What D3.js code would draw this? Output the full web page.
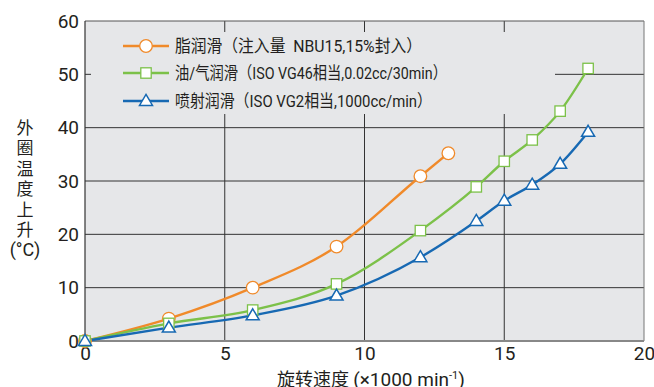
<!DOCTYPE html>
<html><head><meta charset="utf-8">
<script src="https://cdn.jsdelivr.net/npm/d3@7"></script>
<style>
body{margin:0;background:#fff;}
text{font-family:Roboto,"Liberation Sans",sans-serif;fill:#231f20;}
.cjk{font-family:"Noto Sans CJK SC",Roboto,sans-serif;}
.mix{font-family:Roboto,"Noto Sans CJK SC",sans-serif;}
</style></head><body>
<svg id="c" width="654" height="387"></svg>
<script>
const greaseX = [0, 3, 6, 9, 12, 13];
const greaseY = [0, 4.2, 10, 17.7, 30.9, 35.2];
const oilAirX = [0, 3, 6, 9, 12, 14, 15, 16, 17, 18];
const oilAirY = [0, 3.3, 5.8, 10.7, 20.7, 28.9, 33.7, 37.7, 43.1, 51.1];
const jetX = [0, 3, 6, 9, 12, 14, 15, 16, 17, 18];
const jetY = [0, 2.5, 4.8, 8.5, 15.7, 22.5, 26.3, 29.3, 33.2, 39.2];
const xTicks = [0, 5, 10, 15, 20];
const yTicks = [0, 10, 20, 30, 40, 50, 60];
const legendLabels = ["脂润滑（注入量  NBU15,15%封入）", "油/气润滑（ISO VG46相当,0.02cc/30min）", "喷射润滑（ISO VG2相当,1000cc/min）"];
const yTitle = "外圈温度上升";
const yUnit = "(°C)";

const svg = d3.select("#c");
const L = 85, R = 644, T = 21, B = 341;
const x = d3.scaleLinear().domain([0, 20]).range([L, R]);
const y = d3.scaleLinear().domain([0, 60]).range([B, T]);
const bg = "#e6e7e9";

svg.append("rect").attr("x", L).attr("y", T).attr("width", R - L).attr("height", B - T).attr("fill", bg);

// grid
const g = svg.append("g");
xTicks.slice(1, -1).forEach(v => {
  g.append("line").attr("x1", x(v)).attr("x2", x(v)).attr("y1", T).attr("y2", B).attr("stroke", "#333").attr("stroke-width", 1);
});
yTicks.slice(1, -1).forEach(v => {
  g.append("line").attr("x1", L).attr("x2", R).attr("y1", y(v)).attr("y2", y(v)).attr("stroke", "#333").attr("stroke-width", 1);
});
// legend backdrop hides grid
svg.append("rect").attr("x", 91).attr("y", 32).attr("width", 555 - 91).attr("height", 114 - 32).attr("fill", bg);

// frame
svg.append("line").attr("x1", L).attr("x2", R).attr("y1", T).attr("y2", T).attr("stroke", "#555").attr("stroke-width", 1);
svg.append("line").attr("x1", R).attr("x2", R).attr("y1", T).attr("y2", B).attr("stroke", "#777").attr("stroke-width", 1);
svg.append("line").attr("x1", L).attr("x2", R).attr("y1", B).attr("y2", B).attr("stroke", "#888").attr("stroke-width", 2);
svg.append("line").attr("x1", L).attr("x2", L).attr("y1", T).attr("y2", B + 1).attr("stroke", "#333").attr("stroke-width", 1.2);

// axes labels
const xAxis = d3.axisBottom(x).tickValues(xTicks).tickSize(0).tickPadding(6);
const xg = svg.append("g").attr("transform", `translate(0,${B})`).call(xAxis);
xg.select(".domain").remove();
xg.selectAll("text").attr("font-size", 19).attr("dy", "0.71em").attr("fill", "#231f20").style("font-family", "Roboto,sans-serif");
const yAxis = d3.axisLeft(y).tickValues(yTicks).tickSize(0).tickPadding(6);
const yg = svg.append("g").attr("transform", `translate(${L},0)`).call(yAxis);
yg.select(".domain").remove();
yg.selectAll("text").attr("font-size", 19).attr("fill", "#231f20").style("font-family", "Roboto,sans-serif");

// axis titles
svg.append("text").attr("class", "cjk").attr("x", 25).attr("y", 119)
  .style("writing-mode", "vertical-rl").style("letter-spacing", "3.5px")
  .attr("font-size", 17).text(yTitle);
svg.append("text").attr("x", 25).attr("y", 256).attr("text-anchor", "middle").attr("font-size", 18).text(yUnit);

const xt = svg.append("text").attr("x", 371).attr("y", 386).attr("text-anchor", "middle").attr("font-size", 19);
xt.append("tspan").attr("class", "cjk").attr("font-size", 18).text("旋转速度 ");
xt.append("tspan").text("(×1000 min");
xt.append("tspan").attr("font-size", 11).attr("dy", -7).text("-1");
xt.append("tspan").attr("dy", 7).text(")");

const series = [
  {xs: greaseX, ys: greaseY, color: "#f08a2a", shape: "circle"},
  {xs: oilAirX, ys: oilAirY, color: "#7cc149", shape: "square"},
  {xs: jetX, ys: jetY, color: "#1769b3", shape: "triangle"}
];
const line = d3.line().x(d => x(d[0])).y(d => y(d[1])).curve(d3.curveMonotoneX);

function marker(sel, shape, color, cx, cy) {
  if (shape === "circle") {
    sel.append("circle").attr("cx", cx).attr("cy", cy).attr("r", 6.3).attr("fill", "#fff").attr("stroke", color).attr("stroke-width", 1.3);
  } else if (shape === "square") {
    sel.append("rect").attr("x", cx - 5.2).attr("y", cy - 5.2).attr("width", 10.4).attr("height", 10.4).attr("fill", "#fff").attr("stroke", color).attr("stroke-width", 1.3);
  } else {
    const s = 13, h = 11;
    sel.append("path").attr("d", `M${cx},${cy - h * 0.6}L${cx + s / 2},${cy + h * 0.4}L${cx - s / 2},${cy + h * 0.4}Z`).attr("fill", "#fff").attr("stroke", color).attr("stroke-width", 1.5);
  }
}

series.forEach(s => {
  const pts = s.xs.map((v, i) => [v, s.ys[i]]);
  svg.append("path").attr("d", line(pts)).attr("fill", "none").attr("stroke", s.color).attr("stroke-width", 2.4);
});
series.forEach(s => {
  const mg = svg.append("g");
  s.xs.forEach((v, i) => marker(mg, s.shape, s.color, x(v), y(s.ys[i])));
});

// legend
const legY = [46, 73, 101];
const legW = [247, 272, 257];
series.forEach((s, i) => {
  const lg = svg.append("g");
  lg.append("line").attr("x1", 123).attr("x2", 169).attr("y1", legY[i]).attr("y2", legY[i]).attr("stroke", s.color).attr("stroke-width", 2.4);
  marker(lg, s.shape, s.color, 146, legY[i]);
  lg.append("text").attr("class", "mix").attr("x", 175).attr("y", legY[i] + 6).attr("font-size", 17)
    .attr("textLength", legW[i]).attr("lengthAdjust", "spacingAndGlyphs")
    .style("white-space", "pre").text(legendLabels[i]);
});
</script>
</body></html>
